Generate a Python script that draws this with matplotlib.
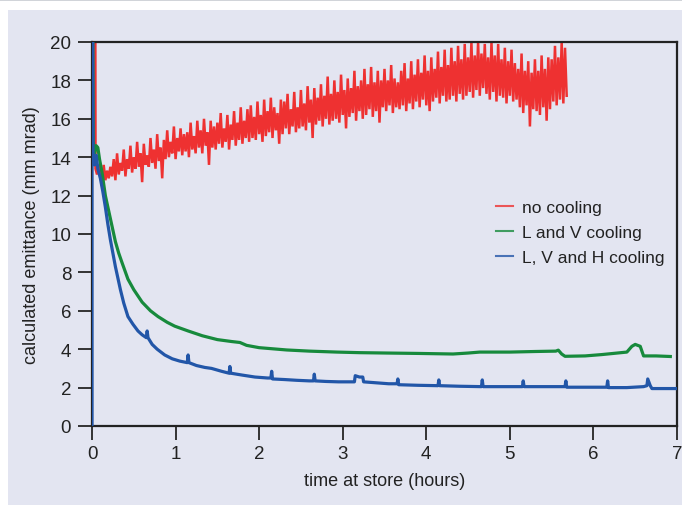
import numpy as np
import matplotlib
matplotlib.use("Agg")
import matplotlib.pyplot as plt
from matplotlib.patches import Rectangle
from matplotlib.lines import Line2D

plt.rcParams['font.family'] = ['Liberation Sans', 'DejaVu Sans']

# ---------------- data ----------------
# no cooling: initial drop, then noisy rising series (t from 0.10 to 5.68 h, step 0.02 h)
red_start_t = [0.04, 0.042, 0.06, 0.08]
red_start_v = [20.5, 13.4, 13.1, 13.6]
red_noisy_v = [
    13.4, 12.5, 13.6, 12.8, 13.3, 12.9, 13.5, 13.0, 13.9, 12.8,
    14.2, 13.1, 13.7, 13.3, 14.4, 13.0, 13.9, 13.4, 14.6, 13.2,
    14.0, 13.4, 14.8, 13.5, 14.2, 12.7, 14.7, 13.6, 14.1, 13.5,
    15.0, 13.7, 14.4, 13.4, 15.2, 13.8, 14.5, 12.9, 14.9, 13.9,
    15.4, 14.0, 14.8, 14.2, 15.6, 13.9, 15.0, 14.3, 15.5, 14.1,
    15.2, 14.3, 15.3, 14.0, 15.8, 14.4, 15.1, 14.2, 15.9, 14.5,
    15.4, 14.2, 16.0, 14.6, 15.3, 13.6, 15.9, 14.5, 15.6, 14.4,
    15.8, 14.7, 16.3, 14.5, 15.5, 14.8, 16.2, 14.4, 15.7, 14.9,
    16.4, 14.6, 15.8, 14.9, 16.6, 14.7, 15.9, 15.0, 16.5, 14.8,
    16.7, 15.0, 16.1, 14.9, 16.9, 15.2, 16.2, 14.8, 17.0, 15.1,
    16.4, 15.3, 17.1, 15.0, 16.6, 15.4, 16.3, 14.7, 17.0, 15.2,
    16.9, 15.5, 17.3, 15.2, 16.5, 15.6, 17.4, 15.3, 16.6, 15.5,
    17.5, 15.6, 16.8, 15.4, 17.7, 15.8, 17.0, 15.0, 17.6, 15.7,
    17.1, 15.9, 17.8, 15.6, 17.2, 16.0, 18.2, 15.7, 17.3, 15.9,
    18.0, 16.0, 17.4, 15.8, 18.3, 16.2, 17.5, 15.5, 18.1, 16.1,
    17.6, 16.3, 18.5, 15.9, 17.7, 16.4, 18.0, 16.0, 18.6, 16.2,
    17.8, 16.5, 18.7, 16.1, 17.9, 16.4, 18.5, 15.8, 18.0, 16.6,
    18.6, 16.4, 18.0, 16.7, 18.8, 16.3, 18.1, 16.6, 17.9, 16.5,
    18.5, 16.7, 18.9, 16.4, 18.1, 16.8, 19.0, 16.5, 18.3, 16.9,
    19.1, 16.6, 18.4, 17.0, 19.3, 16.7, 18.5, 16.4, 19.2, 16.9,
    18.6, 17.1, 19.5, 16.8, 18.7, 17.2, 19.6, 16.9, 18.8, 17.0,
    19.7, 17.2, 19.0, 16.9, 19.8, 17.3, 19.1, 17.0, 19.9, 17.2,
    19.2, 17.4, 20.0, 17.1, 19.3, 17.5, 20.0, 17.2, 19.4, 17.6,
    19.9, 17.3, 19.2, 17.0, 20.0, 17.4, 19.3, 16.9, 19.9, 17.2,
    19.1, 17.1, 19.7, 16.8, 19.0, 17.2, 19.6, 16.9, 18.9, 17.0,
    18.6, 16.6, 19.4, 16.3, 18.5, 16.7, 19.0, 15.6, 18.4, 16.5,
    19.1, 16.4, 18.5, 16.2, 19.3, 16.6, 18.6, 15.9, 19.2, 16.5,
    19.1, 16.9, 19.8, 16.7, 19.2, 17.0, 20.0, 16.8, 19.7, 17.2,
]
red_noisy_t0, red_noisy_dt = 0.10, 0.02

# L and V cooling
green_t = [0.01, 0.015, 0.03, 0.05, 0.07, 0.09, 0.12, 0.16, 0.19, 0.22, 0.25, 0.28,
           0.32, 0.36, 0.43, 0.50, 0.60, 0.70, 0.79, 0.90, 0.99, 1.15, 1.32, 1.50,
           1.67, 1.77, 1.85, 2.00, 2.33, 2.60, 2.93, 3.20, 3.53, 3.90, 4.32, 4.50,
           4.64, 5.00, 5.30, 5.55, 5.58, 5.62, 5.66, 5.90, 6.10, 6.40, 6.46, 6.50,
           6.56, 6.60, 6.75, 6.92]
green_v = [20.2, 14.8, 14.2, 14.6, 14.5, 13.9, 13.2, 12.0, 11.4, 10.8, 10.2, 9.6,
           9.0, 8.5, 7.65, 7.1, 6.45, 6.0, 5.7, 5.4, 5.2, 4.95, 4.7, 4.5,
           4.4, 4.35, 4.2, 4.08, 3.96, 3.9, 3.85, 3.82, 3.8, 3.78, 3.75, 3.8,
           3.85, 3.85, 3.88, 3.9, 3.95, 3.75, 3.63, 3.65, 3.72, 3.85, 4.15, 4.25,
           4.15, 3.65, 3.65, 3.62]

# L, V and H cooling
blue_t = [0.0, 0.0, 0.008, 0.012, 0.03, 0.05, 0.07, 0.10, 0.13, 0.16, 0.19, 0.22,
          0.25, 0.28, 0.31, 0.34, 0.38, 0.43, 0.49, 0.55, 0.60, 0.65, 0.66, 0.67,
          0.72, 0.78, 0.87, 0.96, 1.05, 1.14, 1.15, 1.16, 1.25, 1.35, 1.43, 1.55,
          1.64, 1.65, 1.66, 1.80, 1.95, 2.10, 2.14, 2.15, 2.16, 2.30, 2.45, 2.60,
          2.65, 2.66, 2.67, 2.80, 2.95, 3.14, 3.15, 3.20, 3.24, 3.25, 3.40, 3.55,
          3.65, 3.66, 3.67, 3.90, 4.14, 4.15, 4.16, 4.40, 4.66, 4.67, 4.68, 4.90,
          5.15, 5.16, 5.17, 5.40, 5.66, 5.67, 5.68, 5.90, 6.16, 6.17, 6.18, 6.40,
          6.60, 6.64, 6.65, 6.68, 6.70, 7.00]
blue_v = [0.0, 20.2, 20.2, 14.3, 13.6, 14.1, 13.4, 12.9, 12.2, 11.4, 10.5, 9.7,
          9.0, 8.3, 7.7, 7.1, 6.4, 5.7, 5.3, 4.95, 4.75, 4.6, 4.95, 4.6,
          4.25, 4.0, 3.7, 3.5, 3.38, 3.3, 3.7, 3.3, 3.15, 3.05, 3.0, 2.85,
          2.75, 3.1, 2.75, 2.65, 2.55, 2.5, 2.5, 2.85, 2.45, 2.42, 2.38, 2.35,
          2.35, 2.7, 2.35, 2.32, 2.3, 2.3, 2.62, 2.55, 2.55, 2.3, 2.25, 2.2,
          2.2, 2.45, 2.15, 2.12, 2.1, 2.4, 2.1, 2.07, 2.05, 2.4, 2.05, 2.05,
          2.05, 2.35, 2.05, 2.05, 2.05, 2.35, 2.02, 2.02, 2.02, 2.35, 2.0, 2.0,
          2.05, 2.1, 2.45, 2.1, 1.95, 1.95]

series_labels = ["no cooling", "L and V cooling", "L, V and H cooling"]
x_ticks = [0, 1, 2, 3, 4, 5, 6, 7]
y_ticks = [0, 2, 4, 6, 8, 10, 12, 14, 16, 18, 20]

RED, GREEN, BLUE = '#ee3131', '#178a3c', '#2256a8'
BG = '#e3e5f1'
INK = '#222222'

# ---------------- figure ----------------
fig = plt.figure(figsize=(6.82, 5.06), dpi=100, facecolor='white')
fig.patches.append(Rectangle((8 / 682, 0), 1, 1 - 11 / 506, transform=fig.transFigure,
                             facecolor=BG, edgecolor='none', zorder=-10))
fig.lines.append(Line2D([0, 1], [1 - 1 / 506, 1 - 1 / 506], transform=fig.transFigure,
                        color='#c8ccd2', lw=1.2))

ax = fig.add_axes([92 / 682, 79 / 506, 585 / 682, 384 / 506])
ax.set_facecolor(BG)

red_t = red_start_t + list(red_noisy_t0 + red_noisy_dt * np.arange(len(red_noisy_v)))
red_v = red_start_v + red_noisy_v
ax.plot(red_t, red_v, color=RED, lw=1.8, zorder=2, solid_joinstyle='miter')
ax.plot(green_t, green_v, color=GREEN, lw=2.3, zorder=3, solid_joinstyle='round')
ax.plot(blue_t, blue_v, color=BLUE, lw=2.3, zorder=4, solid_joinstyle='round')

ax.set_xlim(0, 7)
ax.set_ylim(0, 20)
ax.set_xticks(x_ticks)
ax.set_yticks(y_ticks)
ax.tick_params(axis='both', direction='out', length=10, width=1.4, color='#333333',
               labelsize=13.5, labelcolor=INK)
ax.tick_params(axis='y', pad=5)
ax.tick_params(axis='x', pad=4)
for s in ax.spines.values():
    s.set_linewidth(1.6)
    s.set_color(INK)

ax.set_xlabel("time at store (hours)", fontsize=13, color=INK, labelpad=7)
ax.set_ylabel("calculated emittance (mm mrad)", fontsize=13, color=INK, labelpad=7)

handles = [Line2D([], [], color=c, lw=1.5, alpha=0.8) for c in (RED, GREEN, BLUE)]
ax.legend(handles, series_labels, loc='upper left', bbox_to_anchor=(0.69, 0.59),
          frameon=False, fontsize=12.5, handlelength=1.0, handletextpad=0.5,
          labelspacing=0.58, labelcolor=INK, borderaxespad=0, borderpad=0)

fig.savefig("out.png", dpi=100, facecolor=fig.get_facecolor())
